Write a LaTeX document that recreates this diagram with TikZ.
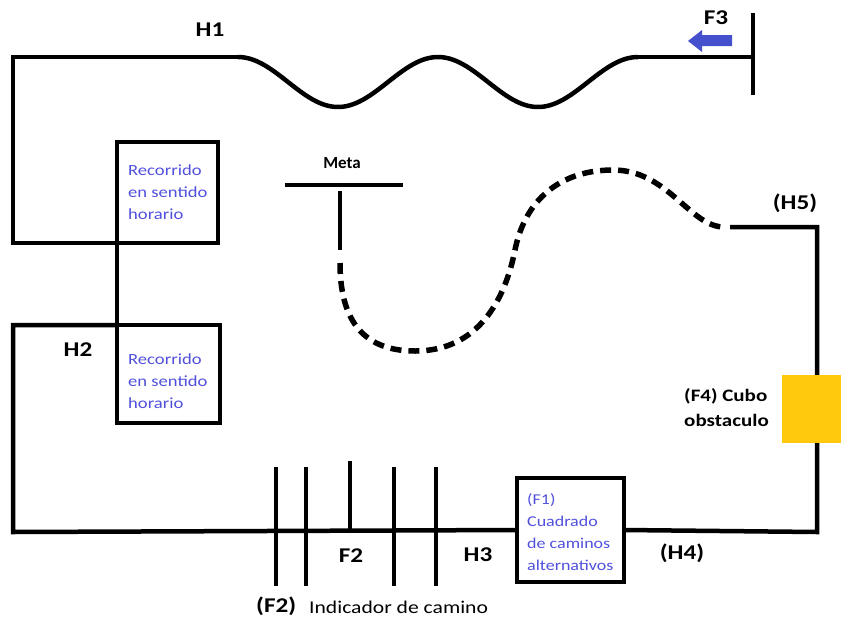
\documentclass[tikz,border=0pt]{standalone}
\usepackage{fontspec}
\setmainfont{Carlito}
\newfontfamily\wide[FakeStretch=1.2]{Carlito}
\newfontfamily\narrowb[FakeStretch=1.0]{Carlito}
\definecolor{boxblue}{RGB}{80,80,220}
\definecolor{arrowblue}{RGB}{68,80,204}
\definecolor{cubeyellow}{RGB}{255,201,14}
\tikzset{
  track/.style={line width=4.5pt, line join=miter},
  wavy/.style={line width=4.5pt},
  tick/.style={line width=4pt},
  dashtrack/.style={line width=5.5pt, dash pattern=on 11pt off 7pt},
  sqbox/.style={draw, line width=4.5pt, outer sep=0pt, minimum width=101pt, minimum height=101pt, inner sep=0pt},
  boxtext/.style={text=boxblue, align=left, anchor=west, inner sep=0pt, font=\wide\fontsize{15.5}{22}\selectfont},
  lbl/.style={inner sep=0pt, font=\wide\bfseries\fontsize{21}{22}\selectfont},
}
\begin{document}
\begin{tikzpicture}[x=1pt,y=-1pt]
\useasboundingbox (0,0) rectangle (841,619);
% coordinates of the track
\coordinate (w0) at (238,57);
\coordinate (w1) at (638,57);
\coordinate (tl) at (13,57);
\coordinate (l1) at (13,243);
\coordinate (l2) at (13,325);
\coordinate (bl) at (13,532);
\coordinate (br) at (817,532);
\coordinate (tr) at (817,227);
\coordinate (h5) at (730,227);
\coordinate (f3end) at (753,57);
\coordinate (f3top) at (753,13);
\coordinate (f3bot) at (753,95);
% boxes
\node[sqbox] (box1) at (167.5,192.5) {};
\node[sqbox, minimum width=103pt, minimum height=98pt] (box2) at (168.5,374) {};
\node[sqbox, minimum width=107pt, minimum height=104pt] (f1box) at (570.5,530) {};
% track
\draw[track] (w0) -- (tl) -- (l1) -- (box1.south west);
\draw[wavy] plot[domain=238:638, samples=120, smooth] (\x, {82-25*cos(1.8*(\x-238))});
\draw[track] (w1) -- (f3end);
\draw[track] (f3top) -- (f3bot);
\draw[track] (box1.south west) -- (box2.north west);
\draw[track] (box2.north west) -- (l2) -- (bl) -- (f1box.west);
\draw[track] (f1box.east) -- (br) -- (tr) -- (h5);
% dashed path to goal
\coordinate (d0) at (340,263);
\coordinate (d1) at (415,351);
\coordinate (d2) at (515,250);
\coordinate (d3) at (613,170);
\coordinate (d4) at (724,227);
\draw[dashtrack] (d0) .. controls (340,330) and (372,351) .. (d1)
  .. controls (478,351) and (505,300) .. (d2)
  .. controls (525,200) and (560,170) .. (d3)
  .. controls (668,170) and (690,227) .. (d4);
% meta
\coordinate (m0) at (285,185);
\coordinate (m1) at (403,185);
\coordinate (m2) at (340,191);
\coordinate (m3) at (340,250);
\draw[tick] (m0) -- (m1);
\draw[tick] (m2) -- (m3);
% path indicator ticks
\foreach \n/\xx in {a/276, b/306, d/394, e/436}{
  \coordinate (t\n top) at (\xx,467);
  \coordinate (t\n bot) at (\xx,586);
  \draw[tick] (t\n top) -- (t\n bot);
}
\coordinate (tctop) at (350,461);
\coordinate (tcbot) at (350,532);
\draw[tick] (tctop) -- (tcbot);
% obstacle cube
\node[fill=cubeyellow, minimum width=59pt, minimum height=68pt, inner sep=0pt] (cube) at (811.5,409) {};
% F3 arrow
\fill[arrowblue] (732,35) -- (702,35) -- (702,30) -- (688,41) -- (702,52) -- (702,46) -- (732,46) -- cycle;
% labels
\node[lbl] (H1) at (210,30) {H1};
\node[lbl] (F3) at (716,18) {F3};
\node[lbl, font=\narrowb\bfseries\fontsize{17}{18}\selectfont] (meta) at (342,163) {Meta};
\node[lbl] (H5) at (795,203) {(H5)};
\node[lbl] (H2) at (78,350) {H2};
\node[lbl] (F2) at (351,556) {F2};
\node[lbl] (H3) at (478,555) {H3};
\node[lbl] (H4) at (682,553) {(H4)};
\node[lbl, anchor=west, align=left, font=\wide\bfseries\fontsize{17.5}{25}\selectfont] (cubotext) at (684,408) {(F4) Cubo\\obstaculo};
\node[lbl, anchor=west] (f2paren) at (256,606) {(F2)};
\node[inner sep=0pt, anchor=west, font=\wide\fontsize{18}{20}\selectfont] (indic) at (309,607) {Indicador de camino};
\node[boxtext] (b1text) at (128,192) {Recorrido\\en sentido\\horario};
\node[boxtext] (b2text) at (128,381) {Recorrido\\en sentido\\horario};
\node[boxtext, font=\wide\fontsize{15}{22}\selectfont] (f1text) at (527,532) {(F1)\\Cuadrado\\de caminos\\alternativos};
\end{tikzpicture}
\end{document}
